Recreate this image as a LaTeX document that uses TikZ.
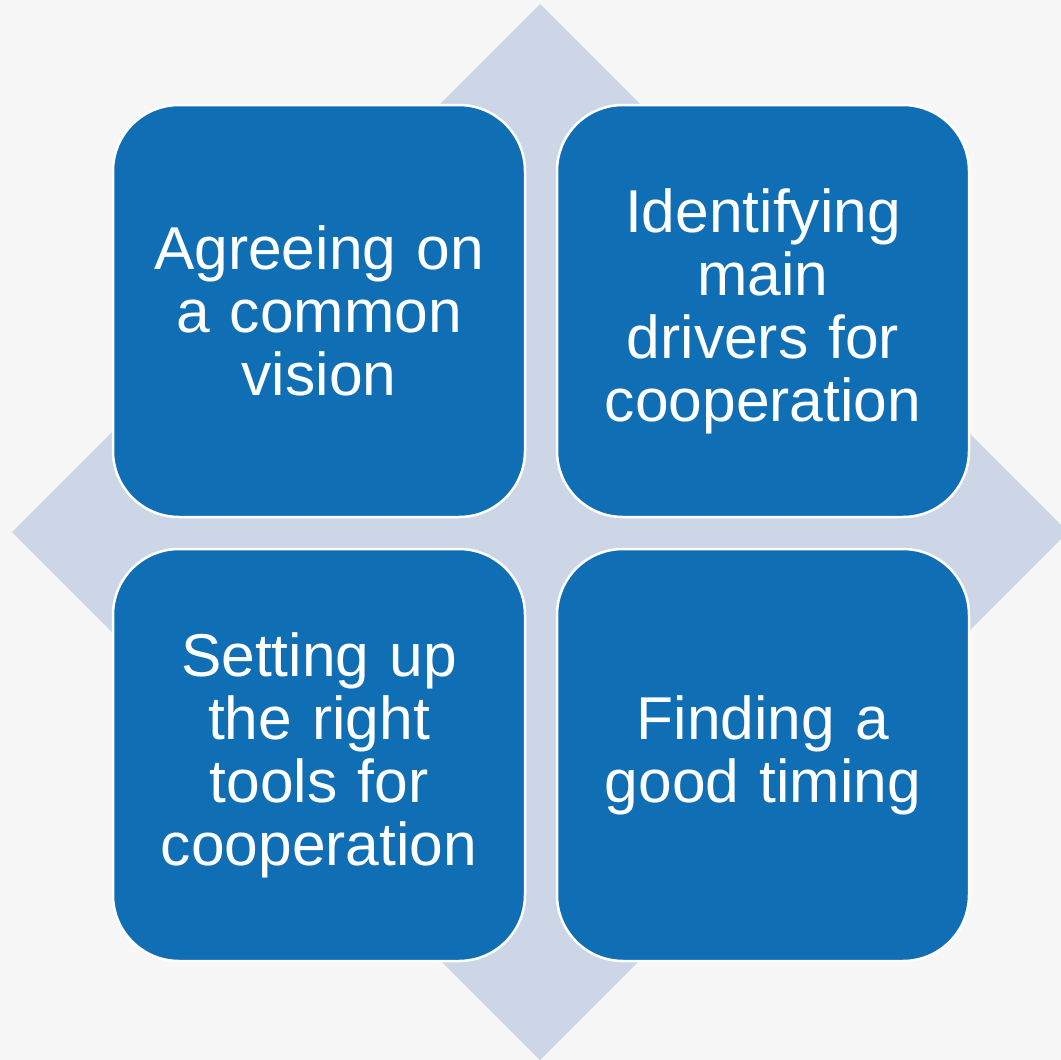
\documentclass[tikz,border=0pt]{standalone}
\usepackage{fontspec}
\setmainfont{Liberation Sans}
\definecolor{boxblue}{HTML}{106EB4}
\definecolor{diamondgray}{HTML}{CDD6E6}
\definecolor{pagegray}{HTML}{F7F7F7}
\begin{document}
\begin{tikzpicture}[x=1pt, y=-1pt,
  block/.style={draw=white, line width=2.5pt, fill=boxblue, rounded corners=66pt,
    minimum width=412pt, minimum height=412pt, inner sep=0pt, text=white,
    align=center, text width=400pt, font=\fontsize{60.5}{63}\selectfont}]
  \clip (0,0) rectangle (1061,1060);
  \fill[pagegray] (0,0) rectangle (1061,1060);
  \fill[diamondgray] (540,4) -- (1068,532) -- (540,1060) -- (12,532) -- cycle;
  \node[block] (vision)  at (319,311) {Agreeing on\\a common\\vision};
  \node[block] (drivers) at (763,311) {Identifying\\main\\drivers for\\cooperation};
  \node[block] (tools)   at (319,755) {Setting up\\the right\\tools for\\cooperation};
  \node[block] (timing)  at (763,755) {Finding a\\good timing};
\end{tikzpicture}
\end{document}
